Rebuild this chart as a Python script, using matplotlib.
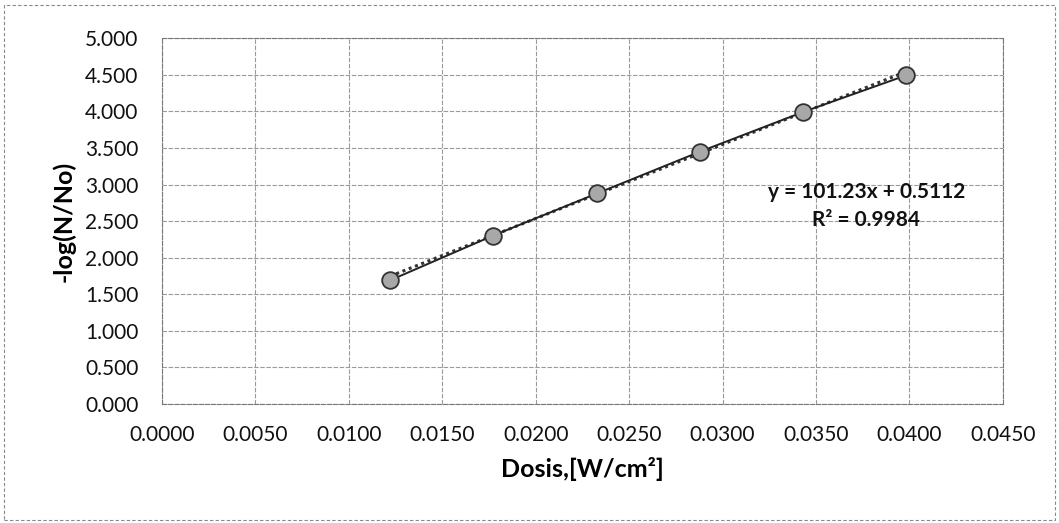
import numpy as np
import matplotlib.pyplot as plt
from matplotlib.patches import Rectangle

plt.rcParams['font.family'] = ['Lato', 'DejaVu Sans']

# data
dosis = [0.0122, 0.0177, 0.0233, 0.0288, 0.0343, 0.0398]
log_red = [1.69, 2.30, 2.88, 3.45, 3.99, 4.49]
slope = 101.23
intercept = 0.5112
r2 = 0.9984
x_ticks = [0.0000, 0.0050, 0.0100, 0.0150, 0.0200, 0.0250, 0.0300, 0.0350, 0.0400, 0.0450]
y_ticks = [0.0, 0.5, 1.0, 1.5, 2.0, 2.5, 3.0, 3.5, 4.0, 4.5, 5.0]

fig = plt.figure(figsize=(10.59, 5.23), dpi=100)
ax = fig.add_axes([0.153, 0.2275, 0.794, 0.6995])

# outer chart border
fig.patches.append(Rectangle((0.004, 0.006), 0.992, 0.985, transform=fig.transFigure,
                             fill=False, edgecolor='#888888', lw=0.8, ls=(0, (3, 2))))

ax.plot(dosis, log_red, color='#222222', lw=1.4, marker='o', ms=12,
        mfc='#a8a8a8', mec='#333333', mew=1.3, zorder=3)

xs = np.array([dosis[0], dosis[-1]])
ax.plot(xs, slope * xs + intercept, color='#333333', lw=2.2, ls=(0, (1, 1.2)), zorder=2)

ax.set_xlim(0, 0.045)
ax.set_ylim(0, 5)
ax.set_xticks(x_ticks)
ax.set_yticks(y_ticks)
ax.set_xticklabels(['%.4f' % v for v in x_ticks])
ax.set_yticklabels(['%.3f' % v for v in y_ticks])
ax.tick_params(length=0, labelsize=15, colors='#111111')
ax.tick_params(axis='x', pad=15)
ax.tick_params(axis='y', pad=17)
ax.grid(True, color='#9a9a9a', lw=0.8, ls=(0, (4, 1.5)))
ax.set_axisbelow(True)
for s in ax.spines.values():
    s.set_color('#777777')
    s.set_linewidth(0.8)
    s.set_linestyle((0, (4, 1.5)))

ax.set_xlabel('Dosis,[W/cm²]', fontsize=18, fontweight='bold', labelpad=9)
ax.set_ylabel('-log(N/No)', fontsize=18, fontweight='bold', labelpad=7)

ax.text(0.0377, 2.70, 'y = 101.23x + 0.5112\nR² = %.4f' % r2, ha='center', va='center',
        fontsize=15, fontweight='bold', color='#111111', linespacing=1.5)

fig.savefig('out.png', dpi=100)
